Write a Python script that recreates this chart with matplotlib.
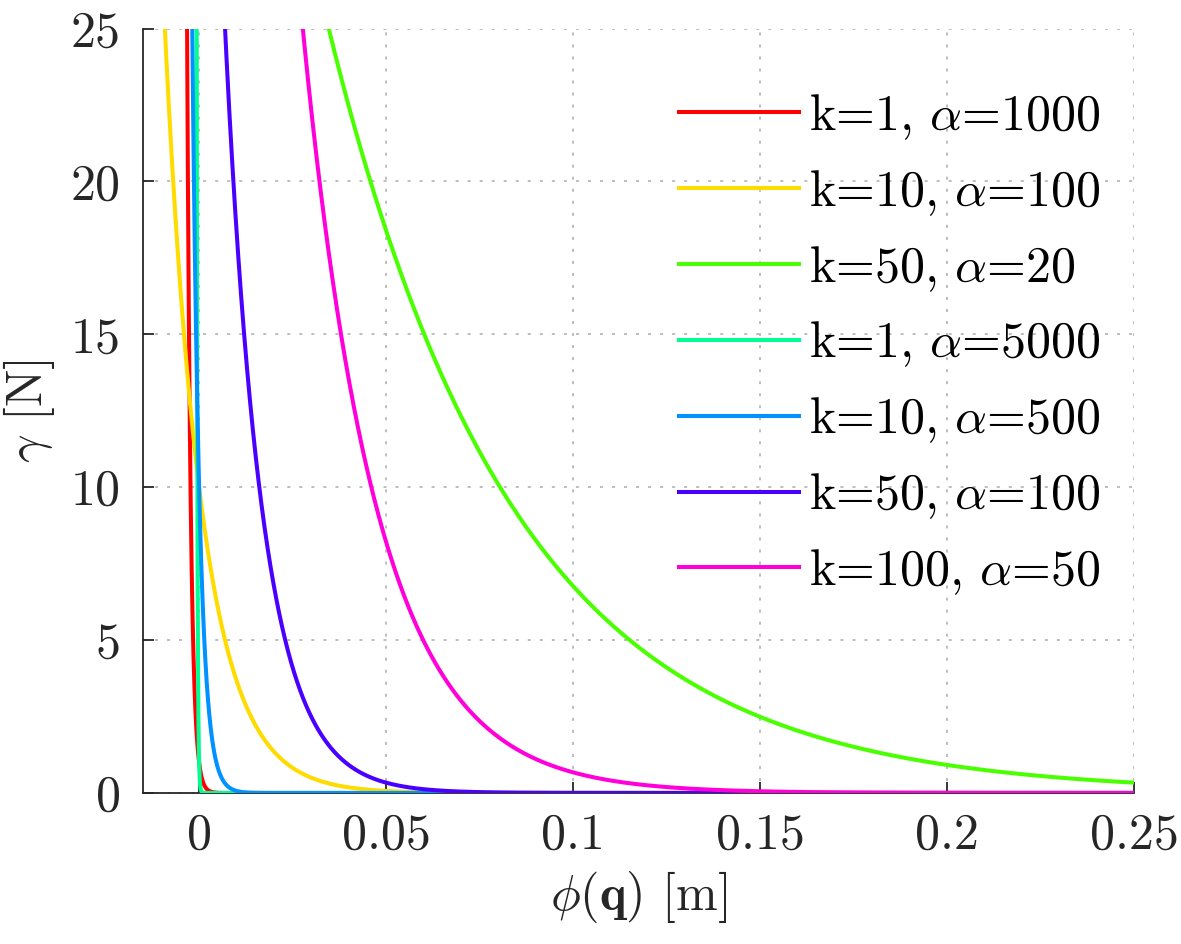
import matplotlib
matplotlib.use("Agg")
import matplotlib.pyplot as plt
import numpy as np

# Fonts (LaTeX look)
plt.rcParams['font.family'] = 'serif'
plt.rcParams['font.serif'] = ['cmr10']
plt.rcParams['mathtext.fontset'] = 'cm'
plt.rcParams['axes.formatter.use_mathtext'] = True
plt.rcParams['axes.unicode_minus'] = False
FS = 36

# Data: gamma = k * exp(-alpha * phi)
k_vals = [1, 10, 50, 1, 10, 50, 100]
alpha_vals = [1000, 100, 20, 5000, 500, 100, 50]
colors = ['#ff0000', '#ffdb00', '#49ff00', '#00ff92', '#0092ff', '#4900ff', '#ff00db']

x_ticks = [0, 0.05, 0.1, 0.15, 0.2, 0.25]
x_ticklabels = ['0', '0.05', '0.1', '0.15', '0.2', '0.25']
y_ticks = [0, 5, 10, 15, 20, 25]

phi = np.linspace(-0.015, 0.25, 20000)

fig = plt.figure(figsize=(11.81, 9.44), dpi=100)
ax = fig.add_axes([0.1211, 0.1600, 0.9602 - 0.1211, 0.9698 - 0.1600])

text_color = '#262626'

for k, a, c in zip(k_vals, alpha_vals, colors):
    ax.plot(phi, k * np.exp(-a * phi), color=c, linewidth=2.9,
            label=rf"k={k}, $\alpha$={a}", zorder=3)

ax.set_xlim(-0.015, 0.25)
ax.set_ylim(0, 25)
ax.set_xticks(x_ticks)
ax.set_xticklabels(x_ticklabels)
ax.set_yticks(y_ticks)
ax.set_yticklabels([str(v) for v in y_ticks])

ax.grid(True, linestyle=(0, (1.66, 5.0)), color='#b8b8b8', linewidth=1.3)
ax.set_axisbelow(True)

for s in ['top', 'right']:
    ax.spines[s].set_visible(False)
for s in ['left', 'bottom']:
    ax.spines[s].set_color(text_color)
    ax.spines[s].set_linewidth(1.3)

ax.tick_params(direction='in', length=8, width=1.3, colors=text_color,
               labelsize=FS, pad=14)
ax.tick_params(axis='y', pad=16)

ax.set_xlabel(r"$\phi(\mathbf{q})$ [m]", fontsize=FS, color=text_color, labelpad=8)
ax.set_ylabel(r"$\gamma$ [N]", fontsize=FS, color=text_color, labelpad=10)

ax.legend(loc='upper left', bbox_to_anchor=(0.521, 0.943), frameon=False,
          fontsize=FS, handlelength=2.4, handletextpad=0.2, labelspacing=0.52,
          borderaxespad=0)

fig.savefig("out.png", dpi=100)
